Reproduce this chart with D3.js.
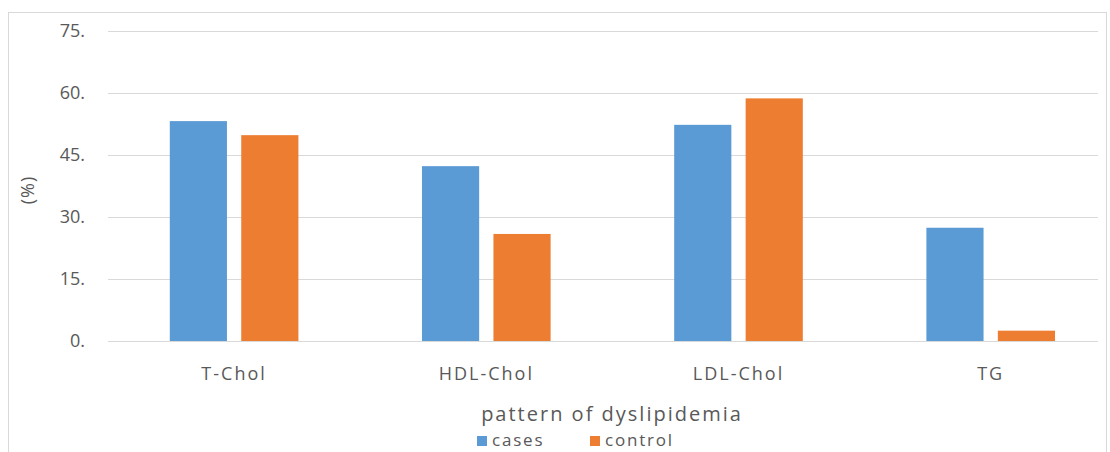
<!DOCTYPE html>
<html>
<head>
<meta charset="utf-8">
<script src="https://cdn.jsdelivr.net/npm/d3@7"></script>
<style>
body { margin: 0; background: #fff; }
text { font-family: "Open Sans", "DejaVu Sans", sans-serif; fill: #595959; }
</style>
</head>
<body>
<div class="svg_container"></div>
<script>
var categories = ["T-Chol", "HDL-Chol", "LDL-Chol", "TG"];
var seriesNames = ["cases", "control"];
var cases = [53.2, 42.3, 52.3, 27.4];
var control = [49.8, 25.9, 58.7, 2.5];
var yTicks = [0, 15, 30, 45, 60, 75];
var yTickLabels = ["0.", "15.", "30.", "45.", "60.", "75."];

const WIDTH = 1110;
const HEIGHT = 452;
const LEFT = 108;
const TOP = 31;
const BAND = 252.2;
const INNER_HEIGHT = 310;
var colors = { cases: "#5B9BD5", control: "#ED7D31" };

var translate = function (x, y) {
    return "translate(" + x + "," + y + ")";
};

var svg = d3.select('.svg_container').append('svg')
    .attr('width', WIDTH)
    .attr('height', HEIGHT);

// chart border
svg.append('rect')
    .attr('x', 8.5).attr('y', 12.5)
    .attr('width', 1098).attr('height', 460)
    .attr('fill', 'none')
    .attr('stroke', '#d9d9d9');

var xScale = d3.scaleBand()
    .domain(categories)
    .range([0, BAND * categories.length])
    .paddingInner(0.49)
    .paddingOuter(0.245);

var inner = d3.scaleBand()
    .domain(seriesNames)
    .range([0, xScale.bandwidth()])
    .paddingInner(0.2);

var yScale = d3.scaleLinear()
    .domain([0, 75])
    .range([INNER_HEIGHT, 0]);

var g = svg.append('g').attr('transform', translate(LEFT, TOP));

// gridlines
g.append('g').selectAll('line').data(yTicks).enter().append('line')
    .attr('x1', 0).attr('x2', 990)
    .attr('y1', function (d) { return Math.round(yScale(d)) + 0.5; })
    .attr('y2', function (d) { return Math.round(yScale(d)) + 0.5; })
    .attr('stroke', '#d9d9d9')
    .attr('stroke-width', 1);

// y tick labels
g.append('g').selectAll('text').data(yTicks).enter().append('text')
    .attr('x', -23)
    .attr('y', function (d) { return yScale(d); })
    .attr('dy', '0.35em')
    .attr('text-anchor', 'end')
    .style('font-size', '18px')
    .text(function (d, i) { return yTickLabels[i]; });

// bars
var rows = categories.map(function (c, i) {
    return { cat: c, values: [{ key: "cases", v: cases[i] }, { key: "control", v: control[i] }] };
});

var groups = g.append('g').selectAll('g').data(rows).enter().append('g')
    .attr('transform', function (d) { return translate(xScale(d.cat), 0); });

groups.selectAll('rect').data(function (d) { return d.values; }).enter().append('rect')
    .attr('x', function (d) { return inner(d.key); })
    .attr('y', function (d) { return yScale(d.v); })
    .attr('width', inner.bandwidth())
    .attr('height', function (d) { return INNER_HEIGHT - yScale(d.v); })
    .attr('fill', function (d) { return colors[d.key]; });

// x labels
g.append('g').selectAll('text').data(categories).enter().append('text')
    .attr('x', function (d) { return xScale(d) + xScale.bandwidth() / 2; })
    .attr('y', INNER_HEIGHT + 39)
    .attr('text-anchor', 'middle')
    .style('font-size', '18px')
    .style('letter-spacing', '2px')
    .text(function (d) { return d; });

// axis titles
svg.append('text')
    .attr('x', 612).attr('y', 421)
    .attr('text-anchor', 'middle')
    .style('font-size', '20px')
    .style('letter-spacing', '2px')
    .text('pattern of dyslipidemia');

svg.append('text')
    .attr('transform', translate(34, 190) + ' rotate(-90)')
    .attr('text-anchor', 'middle')
    .style('font-size', '18px')
    .style('letter-spacing', '1px')
    .text('(%)');

// legend
var legendX = [477, 590];
var legend = svg.append('g').selectAll('g').data(seriesNames).enter().append('g')
    .attr('transform', function (d, i) { return translate(legendX[i], 436); });
legend.append('rect')
    .attr('width', 10).attr('height', 10)
    .attr('fill', function (d) { return colors[d]; });
legend.append('text')
    .attr('x', 15).attr('y', 10)
    .style('font-size', '17px')
    .style('letter-spacing', '1.8px')
    .text(function (d) { return d; });
</script>
</body>
</html>
